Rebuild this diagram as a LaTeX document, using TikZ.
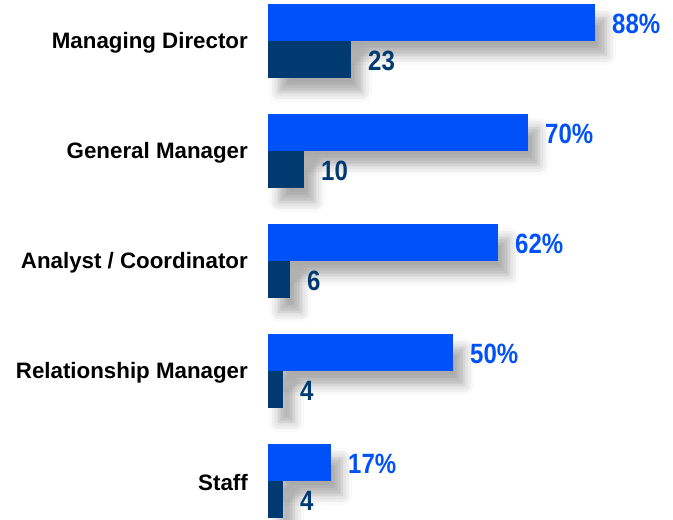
\documentclass[tikz,border=0pt]{standalone}
\usepackage{fontspec}
\setmainfont{Liberation Sans}
\newfontfamily\numfont[FakeStretch=0.86]{Liberation Sans}
\usetikzlibrary{shadows.blur}
\definecolor{barblue}{HTML}{0052F8}
\definecolor{barnavy}{HTML}{003A70}

\begin{document}
\begin{tikzpicture}[x=1bp,y=-1bp,
	barshade/.style={blur shadow={shadow xshift=11bp,shadow yshift=-14bp,shadow blur radius=10bp,shadow opacity=33}},
	rolelabel/.style={anchor=east,inner sep=0,text=black,font=\bfseries\fontsize{22.4}{22.4}\selectfont},
	pctlabel/.style={anchor=west,inner sep=0,text=barblue,font=\numfont\bfseries\fontsize{28}{28}\selectfont},
	cntlabel/.style={anchor=west,inner sep=0,text=barnavy,font=\numfont\bfseries\fontsize{28}{28}\selectfont}]
	%frame
	\useasboundingbox (0,0) rectangle (673,520);
	
	%bars and labels, one group per role
	\foreach \y/\role/\pct/\cnt/\lenp/\lenc [count=\i] in
		{4/{Managing Director}/88\%/23/327/83,
		 114/{General Manager}/70\%/10/260/36,
		 224/{Analyst / Coordinator}/62\%/6/230/22,
		 334/{Relationship Manager}/50\%/4/185/15,
		 444/{Staff}/17\%/4/63/15}
	{
		\fill[barblue,barshade] (268,\y) rectangle ++(\lenp,37);		%share
		\fill[barnavy,barshade] (268,\y+37) rectangle ++(\lenc,37);	%count
		\node[rolelabel] (role\i) at (248,\y+39)          {\role};
		\node[pctlabel]  (pct\i)  at (268+\lenp+17,\y+20) {\pct};
		\node[cntlabel]  (cnt\i)  at (268+\lenc+17,\y+57) {\cnt};
	}
\end{tikzpicture}
\end{document}
